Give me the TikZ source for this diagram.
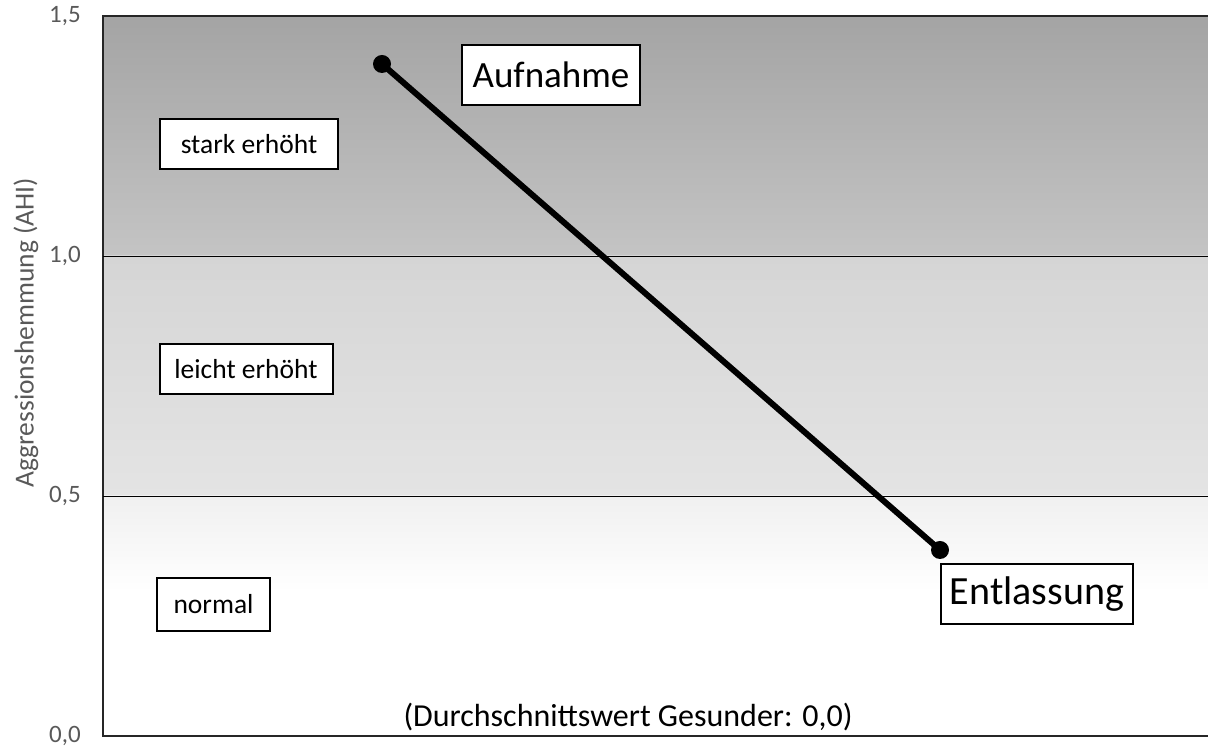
\documentclass[tikz,border=0pt]{standalone}
\usepackage{fontspec}
\setmainfont{Carlito}
\definecolor{axisgray}{HTML}{595959}
\definecolor{bandA}{HTML}{A4A4A4}
\definecolor{bandB}{HTML}{C4C4C4}
\definecolor{bandC}{HTML}{D5D5D5}
\definecolor{bandD}{HTML}{E4E4E4}
\definecolor{bandE}{HTML}{F0F0F0}

\begin{document}
\begin{tikzpicture}[x=1pt, y=480pt]
  \tikzstyle{zone}=[draw=black, line width=2pt, fill=white, font=\fontsize{27.5}{32}\selectfont, minimum height=50pt]
  \tikzstyle{event}=[draw=black, line width=2pt, fill=white, minimum height=60pt]
  \tikzstyle{tick}=[anchor=east, text=axisgray, font=\fontsize{25}{28}\selectfont, inner sep=0pt]
  \tikzstyle{dot}=[circle, fill=black, inner sep=0pt, minimum size=18pt]

  \useasboundingbox (-103,-0.025) rectangle (1105,1.5333);

  % background bands
  \shade[top color=bandA, bottom color=bandB] (0,1) rectangle (1105,1.5);
  \shade[top color=bandC, bottom color=bandD] (0,0.5) rectangle (1105,1);
  \shade[top color=bandE, bottom color=white] (0,0.30) rectangle (1105,0.5);

  % frame and grid lines
  \draw[line width=1.2pt, black!85] (1105,1.5) -- (0,1.5) -- (0,0) -- (1105,0);
  \foreach \v in {0.5, 1} {
    \draw[line width=0.8pt] (0,\v) -- (1105,\v);
  }

  % axis
  \foreach \v/\t/\n in {0/{0,0}/a, 0.5/{0,5}/b, 1/{1,0}/c, 1.5/{1,5}/d} {
    \node (tick\n) at (-22,\v) [tick] {\t};
  }
  \node (ytitle) at (-77,0.84) [rotate=90, text=axisgray, font=\fontsize{27.5}{32}\selectfont] {Aggressionshemmung (AHI)};

  % zones
  \node (stark) at (146,1.233) [zone, minimum width=178pt] {stark erhöht};
  \node (leicht) at (143,0.765) [zone, minimum width=173pt] {leicht erhöht};
  \node (normal) at (110.5,0.274) [zone, minimum width=113pt, minimum height=53pt] {normal};

  % patient values
  \node (aufdot) at (279,1.40) [dot] {};
  \node (entdot) at (837,0.3875) [dot] {};
  \draw[line width=6pt] (aufdot.center) -- (entdot.center);
  \node (aufnahme) at (448,1.378) [event, minimum width=178pt, font=\fontsize{37}{42}\selectfont] {Aufnahme};
  \node (entlassung) at (934,0.296) [event, minimum width=192pt, font=\fontsize{40}{46}\selectfont] {Entlassung};

  \node (gesund) at (525,0.040) [font=\fontsize{32}{36}\selectfont] {(Durchschnittswert Gesunder: 0,0)};
\end{tikzpicture}
\end{document}
